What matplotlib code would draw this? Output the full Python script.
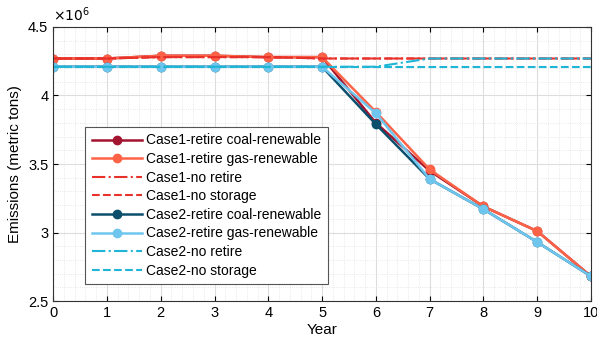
import numpy as np
import matplotlib.pyplot as plt
from matplotlib.ticker import AutoMinorLocator

years = np.arange(0, 11)

c1_coal = [4.27, 4.27, 4.29, 4.29, 4.28, 4.28, 3.80, 3.45, 3.19, 3.01, 2.68]
c1_gas = [4.27, 4.27, 4.29, 4.29, 4.28, 4.28, 3.88, 3.46, 3.19, 3.01, 2.68]
c1_noret = [4.27, 4.27, 4.28, 4.28, 4.28, 4.27, 4.27, 4.27, 4.27, 4.27, 4.27]
c1_nostor = [4.27, 4.27, 4.28, 4.28, 4.28, 4.27, 4.27, 4.27, 4.27, 4.27, 4.27]
c2_coal = [4.21, 4.21, 4.21, 4.21, 4.21, 4.21, 3.79, 3.39, 3.17, 2.93, 2.68]
c2_gas = [4.21, 4.21, 4.21, 4.21, 4.21, 4.21, 3.87, 3.39, 3.17, 2.93, 2.68]
c2_noret = [4.21, 4.21, 4.21, 4.21, 4.21, 4.21, 4.21, 4.27, 4.27, 4.27, 4.27]
c2_nostor = [4.21, 4.21, 4.21, 4.21, 4.21, 4.21, 4.21, 4.21, 4.21, 4.21, 4.21]

scale = 1e6

plt.rcParams['font.family'] = ['Liberation Sans', 'DejaVu Sans']
fig, ax = plt.subplots(figsize=(5.97, 3.46), dpi=100)

ax.plot(years, np.array(c1_coal) * scale, '-o', color='#A2142F', lw=1.8, ms=6, label='Case1-retire coal-renewable')
ax.plot(years, np.array(c1_gas) * scale, '-o', color='#FF6347', lw=1.8, ms=6, label='Case1-retire gas-renewable')
ax.plot(years, np.array(c1_noret) * scale, '-.', color='#E8312A', lw=1.5, label='Case1-no retire')
ax.plot(years, np.array(c1_nostor) * scale, '--', color='#E8312A', lw=1.5, label='Case1-no storage')
ax.plot(years, np.array(c2_coal) * scale, '-o', color='#0B4F6C', lw=1.8, ms=6, label='Case2-retire coal-renewable')
ax.plot(years, np.array(c2_gas) * scale, '-o', color='#6EC6EE', lw=1.8, ms=6, label='Case2-retire gas-renewable')
ax.plot(years, np.array(c2_noret) * scale, '-.', color='#1FB5D6', lw=1.5, label='Case2-no retire')
ax.plot(years, np.array(c2_nostor) * scale, '--', color='#1FB5D6', lw=1.5, label='Case2-no storage')

ax.set_xlim(0, 10)
ax.set_ylim(2.5e6, 4.5e6)
ax.set_xticks(years)
ax.set_yticks([2.5e6, 3e6, 3.5e6, 4e6, 4.5e6])
ax.set_yticklabels(['2.5', '3', '3.5', '4', '4.5'])
ax.xaxis.set_minor_locator(AutoMinorLocator(5))
ax.yaxis.set_minor_locator(AutoMinorLocator(5))
ax.grid(which='major', color='#dddddd', lw=0.8)
ax.grid(which='minor', color='#e2e2e2', lw=0.6, ls=':')
ax.tick_params(which='both', direction='in', top=True, right=True, labelsize=10.5)
ax.tick_params(which='minor', length=0)
for s in ax.spines.values():
    s.set_color('#333333')
ax.text(0, 1.01, r'$\times10^6$', transform=ax.transAxes, fontsize=10, va='bottom')

ax.set_xlabel('Year', fontsize=11, labelpad=2)
ax.set_ylabel('Emissions (metric tons)', fontsize=11)

leg = ax.legend(loc='lower left', bbox_to_anchor=(0.046, 0.035), fontsize=10, fancybox=False,
                edgecolor='#555555', framealpha=1, handlelength=3.6, handletextpad=0.3,
                labelspacing=0.33, borderpad=0.5)
leg.get_frame().set_linewidth(0.8)

plt.subplots_adjust(left=0.089, right=0.99, top=0.922, bottom=0.13)
plt.savefig('out.png', dpi=100)
